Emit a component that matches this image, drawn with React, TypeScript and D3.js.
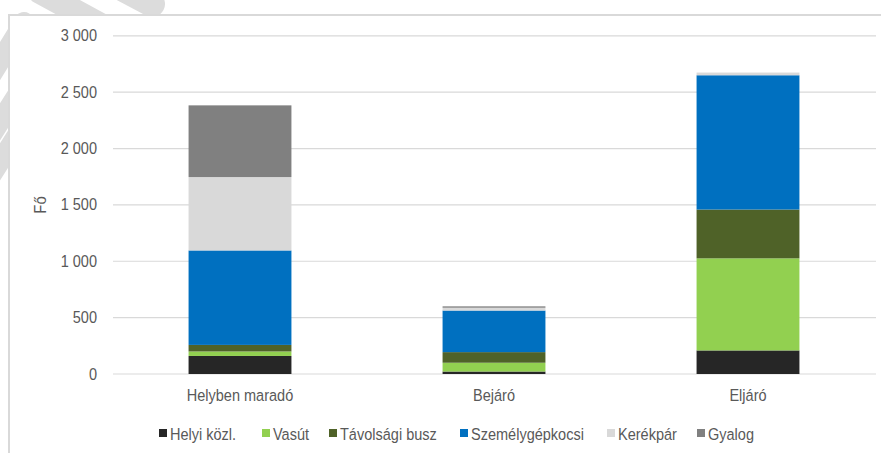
import React from "react";
import * as d3 from "d3";

const categories = ["Helyben maradó", "Bejáró", "Eljáró"];
const seriesNames = ["Helyi közl.", "Vasút", "Távolsági busz", "Személygépkocsi", "Kerékpár", "Gyalog"];
const helyiKozl = [160, 22, 209];
const vasut = [40, 78, 817];
const tavolsagiBusz = [58, 94, 433];
const szemelygepkocsi = [838, 369, 1191];
const kerekpar = [651, 25, 24];
const gyalog = [636, 12, 0];
const yTicks = [0, 500, 1000, 1500, 2000, 2500, 3000];
const colors = ["#262626", "#92d050", "#4f6228", "#0070c0", "#d9d9d9", "#808080"];

const W = 881;
const H = 453;
const FONT = "'Liberation Sans', Arial, sans-serif";
const SX = 0.88;

const fmt = (v: number) => {
  const s = String(v);
  return s.length > 3 ? s.slice(0, s.length - 3) + "\u00a0" + s.slice(s.length - 3) : s;
};

function NText(props: { x: number; y: number; anchor?: string; size?: number; children: any }) {
  const { x, y, anchor = "start", size = 16.5, children } = props;
  return (
    <text transform={`translate(${x},${y}) scale(${SX},1)`} textAnchor={anchor} fontSize={size} fill="#595959">
      {children}
    </text>
  );
}

export default function App() {
  const seriesValues = [helyiKozl, vasut, tavolsagiBusz, szemelygepkocsi, kerekpar, gyalog];
  const rows = categories.map((c, i) => {
    const r: any = { cat: c };
    seriesNames.forEach((s, j) => (r[s] = seriesValues[j][i]));
    return r;
  });
  const stacked = d3.stack<any>().keys(seriesNames)(rows);

  const x = d3.scaleBand<string>().domain(categories).range([113, 875]).paddingInner(0.595).paddingOuter(0.2975);
  const y = d3.scaleLinear().domain([0, 3000]).range([374, 35.8]);

  const legendX = [159, 262, 329, 460, 607, 697];

  return (
    <svg width={W} height={H} style={{ position: "absolute", left: 0, top: 0 }} fontFamily={FONT}>
      <rect x={0} y={0} width={W} height={H} fill="#ffffff" />
      {/* decorative watermark stripes */}
      <g stroke="#dcdcdc" fill="none" strokeLinecap="round">
        <line x1={40} y1={-8} x2={110} y2={30} strokeWidth={24} />
        <line x1={118} y1={-14} x2={152} y2={4} strokeWidth={26} />
        <line x1={24} y1={22} x2={-14} y2={84} strokeWidth={20} />
        <line x1={24} y1={84} x2={-14} y2={144} strokeWidth={20} />
        <line x1={24} y1={124} x2={-14} y2={184} strokeWidth={20} />
      </g>
      <rect x={9} y={15} width={W + 20} height={H + 20} fill="#ffffff" stroke="#d9d9d9" strokeWidth={2} />

      {/* gridlines */}
      <g>
        {yTicks.map((t) => (
          <line key={t} x1={113} x2={876} y1={y(t)} y2={y(t)} stroke="#d9d9d9" strokeWidth={1.2} />
        ))}
      </g>
      {/* tick labels */}
      {yTicks.map((t) => (
        <NText key={t} x={97} y={y(t) + 5.5} anchor="end">
          {fmt(t)}
        </NText>
      ))}
      <text transform={`translate(46,205) rotate(-90) scale(${SX},1)`} textAnchor="middle" fill="#595959" fontSize={17}>
        Fő
      </text>

      {/* bars */}
      {stacked.map((s, si) => (
        <g key={s.key} fill={colors[si]}>
          {s.map((d, i) => (
            <rect
              key={i}
              x={x(categories[i])!}
              width={x.bandwidth()}
              y={y(d[1])}
              height={Math.max(0, y(d[0]) - y(d[1]))}
            />
          ))}
        </g>
      ))}

      {/* category labels */}
      {categories.map((c) => (
        <NText key={c} x={x(c)! + x.bandwidth() / 2} y={401} anchor="middle">
          {c}
        </NText>
      ))}

      {/* legend */}
      {seriesNames.map((s, i) => (
        <g key={s}>
          <rect x={legendX[i]} y={429} width={8} height={8} fill={colors[i]} />
          <NText x={legendX[i] + 11} y={440}>
            {s}
          </NText>
        </g>
      ))}
    </svg>
  );
}
